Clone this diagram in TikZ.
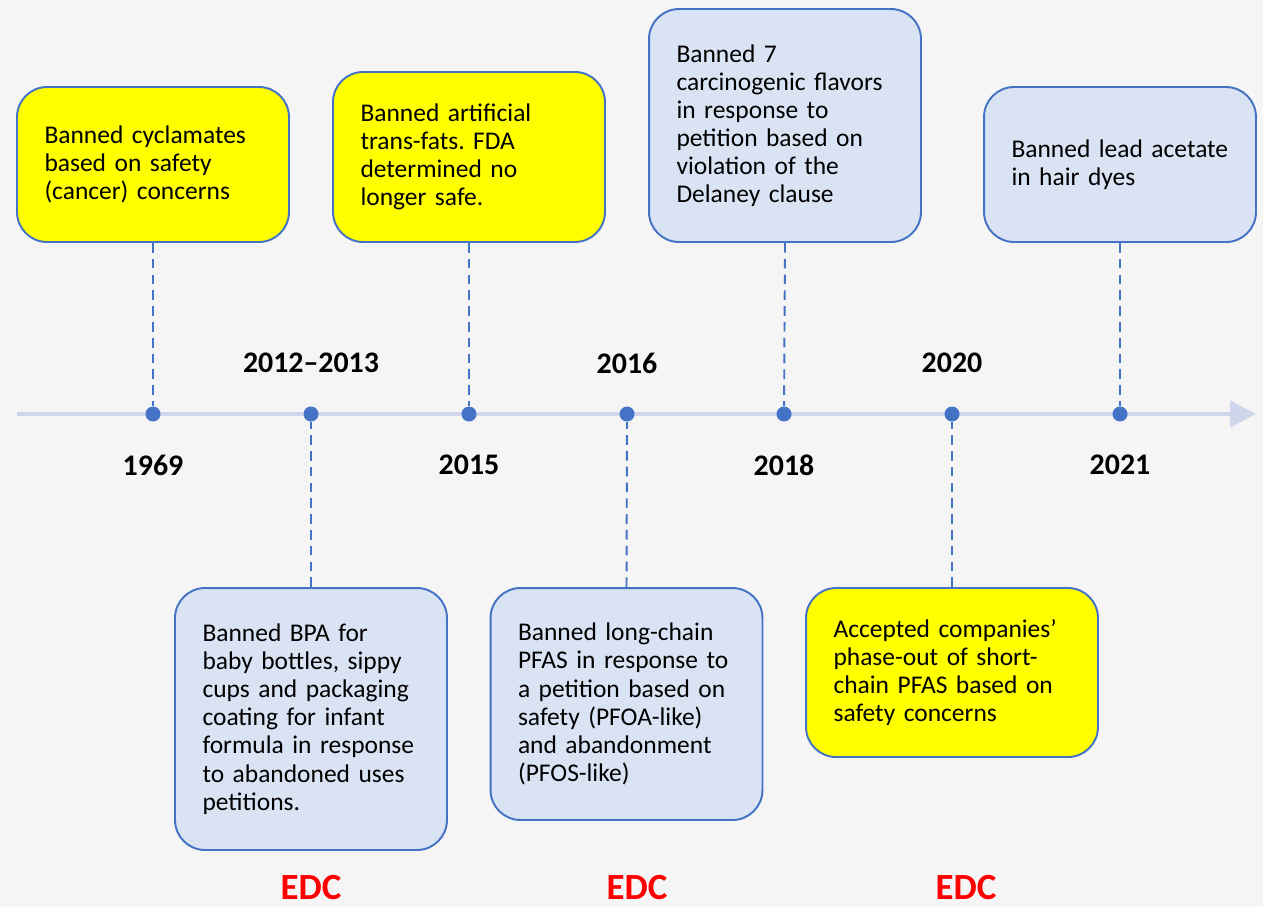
\documentclass[tikz,border=0pt]{standalone}
\usepackage{fontspec}
\setmainfont{Carlito}
\usetikzlibrary{arrows.meta}
\frenchspacing

\definecolor{pagebg}{RGB}{245,245,245}
\definecolor{boxblue}{RGB}{218,227,243}
\definecolor{boxline}{RGB}{68,114,196}
\definecolor{evyellow}{RGB}{255,255,0}
\definecolor{axisblue}{RGB}{207,214,235}
\definecolor{edcred}{RGB}{255,0,0}

\tikzset{every picture/.style={line width=0.75pt}}
\tikzset{
  eventbox/.style={draw=boxline, line width=1.1pt, rounded corners=0.6cm,
    text width=4.34cm, inner xsep=0.55cm, align=left,
    font=\fontsize{14.5}{16}\selectfont},
  yelbox/.style={eventbox, fill=evyellow},
  bluebox/.style={eventbox, fill=boxblue},
  yearlbl/.style={font=\fontsize{17}{20}\selectfont\bfseries},
  edclbl/.style={font=\fontsize{21}{24}\selectfont\bfseries, text=edcred},
  stem/.style={draw=boxline, line width=1.1pt, dash pattern=on 5.5pt off 3.5pt},
  axis/.style={draw=axisblue, line width=2.8pt, -{Triangle[length=0.52cm,width=0.52cm]}},
  dot/.style={circle, fill=boxline, inner sep=0pt, minimum size=0.3cm}
}

\begin{document}
\begin{tikzpicture}[x=0.02cm, y=-0.02cm]
		\fill[pagebg] (0,0) rectangle (1263,907);
		\useasboundingbox (0,0) rectangle (1263,907);

		% timeline
		\coordinate (tlstart) at (17,414);
		\coordinate (tlend) at (1256,414);
		\draw[axis] (tlstart) -- (tlend);

		\node[dot] (d1969) at (153,414) {};
		\node[dot] (d2012) at (311,414) {};
		\node[dot] (d2015) at (469,414) {};
		\node[dot] (d2016) at (627,414) {};
		\node[dot] (d2018) at (784,414) {};
		\node[dot] (d2020) at (952,414) {};
		\node[dot] (d2021) at (1120,414) {};

		% years
		\node[yearlbl] (y1969) at (153,465) {1969};
		\node[yearlbl] (y2012) at (311,363) {2012–2013};
		\node[yearlbl] (y2015) at (469,465) {2015};
		\node[yearlbl] (y2016) at (627,363) {2016};
		\node[yearlbl] (y2018) at (784,465) {2018};
		\node[yearlbl] (y2020) at (952,363) {2020};
		\node[yearlbl] (y2021) at (1120,465) {2021};

		% boxes above
		\node[yelbox, minimum height=3.1cm] (b1969) at (153,164.5)
			{Banned cyclamates\\ based on safety\\ (cancer) concerns};
		\node[yelbox, minimum height=3.4cm] (b2015) at (469,157)
			{Banned artificial\\ trans-fats. FDA\\ determined no\\ longer safe.};
		\node[bluebox, minimum height=4.66cm] (b2018) at (785,125.5)
			{Banned 7\\ carcinogenic flavors\\ in response to\\ petition based on\\ violation of the\\ Delaney clause};
		\node[bluebox, minimum height=3.1cm] (b2021) at (1120,164.5)
			{Banned lead acetate\\ in hair dyes};

		% boxes below
		\node[bluebox, minimum height=5.24cm] (b2012) at (311,719)
			{Banned BPA for\\ baby bottles, sippy\\ cups and packaging\\ coating for infant\\ formula in response\\ to abandoned uses\\ petitions.};
		\node[bluebox, minimum height=4.64cm] (b2016) at (626.5,704)
			{Banned long-chain\\ PFAS in response to\\ a petition based on\\ safety (PFOA-like)\\ and abandonment\\ (PFOS-like)};
		\node[yelbox, text width=4.74cm, minimum height=3.38cm] (b2020) at (952,672.5)
			{Accepted companies’\\ phase-out of short-\\ chain PFAS based on\\ safety concerns};

		% stems
		\draw[stem] (b1969.south) -- (d1969);
		\draw[stem] (b2015.south) -- (d2015);
		\draw[stem] (b2018.south) -- (d2018);
		\draw[stem] (b2021.south) -- (d2021);
		\draw[stem] (b2012.north) -- (d2012);
		\draw[stem] (b2016.north) -- (d2016);
		\draw[stem] (b2020.north) -- (d2020);

		\node[edclbl] (edc1) at (311,888) {EDC};
		\node[edclbl] (edc2) at (637,888) {EDC};
		\node[edclbl] (edc3) at (966,888) {EDC};
	\end{tikzpicture}
\end{document}
